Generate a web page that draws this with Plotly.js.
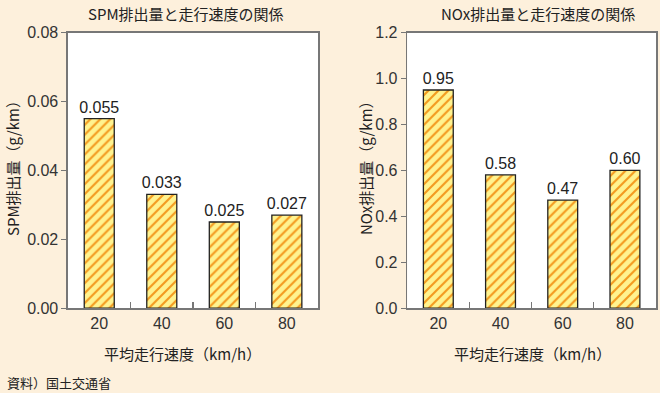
<!DOCTYPE html>
<html><head><meta charset="utf-8">
<script src="https://cdn.plot.ly/plotly-3.0.1.min.js"></script>
<style>html,body{margin:0;padding:0;background:#fdf0dc;}#c{width:660px;height:393px;}</style>
</head><body><div id="c"></div>
<script>
const speeds = ['20', '40', '60', '80'];
const spmValues = [0.055, 0.033, 0.025, 0.027];
const spmLabels = ['0.055', '0.033', '0.025', '0.027'];
const noxValues = [0.95, 0.58, 0.47, 0.60];
const noxLabels = ['0.95', '0.58', '0.47', '0.60'];

const font = "Noto Sans CJK JP, Liberation Sans, sans-serif";
const numFont = "Liberation Sans, Arial, sans-serif";
const pattern = {shape: '/', fgcolor: '#f39a1e', bgcolor: '#fff38f', size: 7, solidity: 0.3};
function barTrace(vals, labels, xa, ya) {
  return {
    type: 'bar', x: speeds, y: vals, text: labels, textposition: 'outside',
    constraintext: 'none',
    textfont: {family: numFont, size: 16, color: '#222'},
    cliponaxis: false, width: 0.48, xaxis: xa, yaxis: ya,
    marker: {color: '#fff38f', pattern: pattern, line: {color: '#222', width: 1.3}},
    hoverinfo: 'none'
  };
}
const tickFont = {family: numFont, size: 16, color: '#333'};
const titleFont = {family: font, size: 15, color: '#222'};
const xcommon = {
  type: 'category', showgrid: false, showline: true, linecolor: '#777', linewidth: 1.5,
  mirror: true, ticks: 'inside', tickson: 'boundaries', ticklen: 6, tickcolor: '#777', tickwidth: 1.2,
  tickfont: tickFont, fixedrange: true
};
const ycommon = {
  showgrid: false, zeroline: false, showline: true, linecolor: '#777', linewidth: 1.5,
  mirror: true, ticks: 'outside', ticklen: 5, tickcolor: '#777', tickfont: tickFont
};
function ann(text, x, y, extra) {
  return Object.assign({text: text, xref: 'paper', yref: 'paper', x: x / 660, y: 1 - y / 393,
    xanchor: 'center', yanchor: 'middle', showarrow: false, font: titleFont}, extra || {});
}
const layout = {
  width: 660, height: 393, margin: {l: 0, r: 0, t: 0, b: 0},
  paper_bgcolor: '#fdf0dc', plot_bgcolor: '#ffffff', showlegend: false, bargap: 0.52,
  xaxis: Object.assign({}, xcommon, {domain: [0.103, 0.482], anchor: 'y'}),
  yaxis: Object.assign({}, ycommon, {domain: [0.216, 0.917], anchor: 'x', range: [0, 0.08], dtick: 0.02, tickformat: '.2f'}),
  xaxis2: Object.assign({}, xcommon, {domain: [0.617, 0.994], anchor: 'y2'}),
  yaxis2: Object.assign({}, ycommon, {domain: [0.216, 0.917], anchor: 'x2', range: [0, 1.2], dtick: 0.2, tickformat: '.1f'}),
  annotations: [
    ann('SPM排出量と走行速度の関係', 186, 14),
    ann('NOx排出量と走行速度の関係', 538, 14),
    ann('平均走行速度（km/h）', 182, 353),
    ann('平均走行速度（km/h）', 532, 353),
    ann('SPM排出量（g/km）', 13, 165, {textangle: -90}),
    ann('NOx排出量（g/km）', 366, 164, {textangle: -90}),
    ann('資料）国土交通省', 5, 382, {xanchor: 'left', font: {family: font, size: 13, color: '#222'}})
  ]
};
Plotly.newPlot('c', [barTrace(spmValues, spmLabels, 'x', 'y'), barTrace(noxValues, noxLabels, 'x2', 'y2')], layout, {staticPlot: true});
</script></body></html>
